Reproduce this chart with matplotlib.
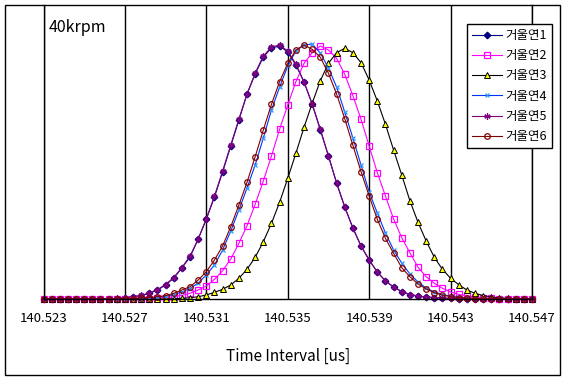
import matplotlib
matplotlib.use("Agg")
import matplotlib.pyplot as plt
from matplotlib.patches import Rectangle
import numpy as np

plt.rcParams['font.family'] = ['Noto Sans CJK KR', 'DejaVu Sans']

# sampling grid: 140.523 .. 140.547 us, 61 points
t = np.round(140.523 + 0.0004 * np.arange(61), 4)

s1 = [0]*9 + [0.5, 1.2, 2.3, 3.3, 5.7, 9, 14, 21, 31, 42, 60, 80, 102, 127, 153, 179, 205, 225,
              242, 251, 253, 247, 234, 217, 195, 169, 143, 116, 92, 71, 53, 39, 27, 18, 12, 7.3,
              4.3, 3, 2, 1.5, 1, 0.6, 0.3] + [0]*9
s2 = [0]*13 + [0.5, 1, 1.5, 2.3, 3.7, 5.7, 9, 13, 19.7, 28.3, 40, 55.7, 73.3, 94.7, 118, 143,
               169.7, 194, 217.3, 235.7, 246.3, 253, 249, 240.7, 224.7, 203.3, 179.7, 153, 126.3,
               103, 80, 61.3, 46.3, 31.7, 22.3, 15.7, 10.7, 7, 4.7, 3, 2, 1.2, 0.7, 0.3] + [0]*4
s3 = [0]*16 + [0.3, 0.7, 1.3, 2.3, 4, 6.7, 9.7, 14, 20.7, 29.7, 41.7, 57.3, 75.7, 96.7, 120.7,
               145.7, 171.7, 195.7, 218.3, 235.7, 246.3, 250.7, 246.3, 236.3, 219, 198, 174.7,
               149, 124, 98.3, 76.7, 58, 41.7, 29.7, 20.7, 14.3, 9, 5.7, 3.5, 2, 1.2, 0.7, 0.3] + [0]*2
s4 = [0]*12 + [0.5, 1, 1.7, 2.7, 4.5, 7, 10.5, 16, 24, 34, 49, 68, 89, 111, 134, 161, 189, 212,
               233, 248, 254, 255, 246, 231, 212, 187, 161, 134, 107, 86, 66, 49, 36, 25, 17, 11,
               7, 4.5, 2.7, 1.7, 1, 0.5] + [0]*7
s5 = [0]*9 + [0.6, 1.3, 2.5, 3.6, 6, 9.5, 14.5, 21.5, 31.5, 43, 60, 80, 103, 128, 154, 180, 205,
              226, 243, 252, 254, 248, 235, 217, 195, 170, 143, 116, 92, 71, 53, 39, 27, 18, 12,
              7.5, 4.5, 3, 2, 1.5, 1, 0.6, 0.3] + [0]*9
s6 = [0]*11 + [0.5, 1, 1.5, 2.3, 3.3, 5.7, 9, 12.3, 19, 27.3, 39, 53, 72.3, 94, 116.7, 142.3, 169,
               194.7, 217.3, 235.7, 249, 254, 249.7, 241.7, 225.7, 205, 180.3, 153.7, 127.3, 103,
               79.7, 60.7, 45.7, 31.3, 22.3, 15, 10, 6.3, 4, 2.3, 1.5, 1, 0.5] + [0]*7

labels = ['거울연1', '거울연2', '거울연3', '거울연4', '거울연5', '거울연6']
xticks = [140.523, 140.527, 140.531, 140.535, 140.539, 140.543, 140.547]

W, H = 567, 380
fig = plt.figure(figsize=(W/100, H/100), dpi=100)
ax = fig.add_axes([43.5/W, (H-299)/H, (532-43.5)/W, (299-5)/H])

lw = 0.8
ax.plot(t, s1, color='#000080', lw=lw, marker='D', ms=3.3, mfc='#000080', mec='#000080', label=labels[0], clip_on=False)
ax.plot(t, s2, color='#FF00FF', lw=lw, marker='s', ms=4.2, mfc='none', mec='#FF00FF', mew=0.9, label=labels[1], clip_on=False)
ax.plot(t, s3, color='black', lw=lw, marker='^', ms=4.6, mfc='#FFFF00', mec='black', mew=0.7, label=labels[2], clip_on=False)
ax.plot(t, s4, color='#0033FF', lw=lw, marker='x', ms=3.5, mec='#3399FF', mew=0.9, label=labels[3], clip_on=False)
ax.plot(t, s5, color='#800080', lw=lw, marker=(6, 2, 0), ms=4.5, mec='#800080', mew=0.9, label=labels[4], clip_on=False)
ax.plot(t, s6, color='#800000', lw=lw, marker='o', ms=4, mfc='none', mec='#800000', mew=0.9, label=labels[5], clip_on=False)

ax.set_xlim(140.523, 140.547)
ax.set_ylim(0, 294)
ax.set_xticks(xticks)
ax.set_xticklabels(['%.3f' % v for v in xticks], fontsize=9.5)
ax.set_yticks([])
ax.tick_params(axis='x', length=0, pad=9)
ax.grid(axis='x', color='black', lw=1)
ax.set_axisbelow(True)
ax.spines['top'].set_visible(False)
for side in ['left', 'bottom', 'right']:
    ax.spines[side].set_linewidth(1)
    ax.spines[side].set_color('black')
ax.set_xlabel('Time Interval [us]', fontsize=11, labelpad=17)

ax.text(49/W, 1-27/H, '40krpm', transform=fig.transFigure, fontsize=11.5, va='center', ha='left')

leg = ax.legend(loc='upper right', bbox_to_anchor=(552/W, 1-24/H), bbox_transform=fig.transFigure,
                fontsize=9, frameon=True, fancybox=False, borderaxespad=0, handlelength=2.4,
                handletextpad=0.3, labelspacing=0.58, borderpad=0.4)
leg.get_frame().set_edgecolor('black')
leg.get_frame().set_linewidth(1)
leg.get_frame().set_alpha(1)

fig.patches.append(Rectangle((5/W, 5/H), 555/W, 370/H, transform=fig.transFigure,
                             fill=False, edgecolor='black', lw=1))

fig.savefig('out.png', dpi=100)
